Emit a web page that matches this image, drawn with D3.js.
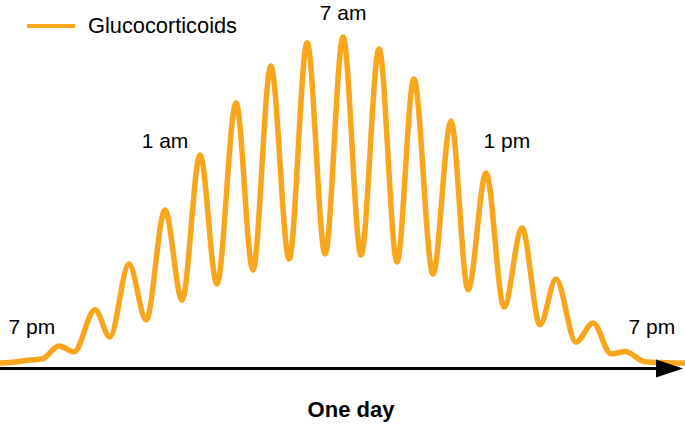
<!DOCTYPE html>
<html>
<head>
<meta charset="utf-8">
<script src="https://cdn.jsdelivr.net/npm/d3@7"></script>
<style>
  body { margin: 0; background: #fff; }
  text { font-family: "Liberation Sans", Arial, sans-serif; fill: #000; }
</style>
</head>
<body>
<script>
// hours since 7 pm, glucocorticoid level (arbitrary units, 0-100)
var hours = [0, 0.53, 1.05, 1.47, 2.07, 2.59, 3.33, 3.85, 4.52, 5.12, 5.78, 6.38,
    7.01, 7.60, 8.27, 8.86, 9.49, 10.13, 10.76, 11.39, 12.02, 12.65, 13.28, 13.91,
    14.50, 15.17, 15.80, 16.40, 17.03, 17.66, 18.29, 18.92, 19.48, 20.18, 20.78,
    21.41, 21.90, 22.60, 23.30, 24];
var level = [0, 0.3, 0.9, 1.2, 5.2, 3.4, 16.3, 8.0, 30.4, 13.2, 46.9, 19.3,
    63.8, 24.2, 79.8, 28.5, 91.1, 31.9, 98.2, 33.4, 100, 33.1, 96.3, 31.0,
    87.1, 27.3, 74.2, 22.4, 58.3, 17.2, 41.4, 11.7, 25.8, 6.4, 12.3,
    2.8, 3.5, 0.4, 0.1, 0];

var timeLabels = ["7 pm", "1 am", "7 am", "1 pm", "7 pm"];
var labelHours = [1.12, 5.78, 12.02, 17.76, 22.84];
var labelLevel = [8.9, 66, 105.2, 66, 8.9];

var seriesName = "Glucocorticoids";
var axisTitle = "One day";

var width = 685, height = 425;

var xScale = d3.scaleLinear()
    .domain([0, 24])
    .range([0, 685]);

var yScale = d3.scaleLinear()
    .domain([0, 100])
    .range([363, 37]);

var svg = d3.select("body")
    .append("svg")
    .attr("width", width)
    .attr("height", height);

var pts = hours.map(function(h, i) { return [h, level[i]]; });

var line = d3.line()
    .x(function(d) { return xScale(d[0]); })
    .y(function(d) { return yScale(d[1]); })
    .curve(d3.curveMonotoneX);

svg.append("path")
    .datum(pts)
    .attr("d", line)
    .attr("fill", "none")
    .attr("stroke", "#f9a61c")
    .attr("stroke-width", 5.5)
    .attr("stroke-linejoin", "round")
    .attr("stroke-linecap", "round");

// time labels
svg.selectAll(".tlabel")
    .data(timeLabels)
    .enter()
    .append("text")
    .attr("class", "tlabel")
    .attr("x", function(d, i) { return xScale(labelHours[i]); })
    .attr("y", function(d, i) { return yScale(labelLevel[i]); })
    .attr("text-anchor", "middle")
    .style("font-size", "21px")
    .text(function(d) { return d; });

// time arrow
svg.append("line")
    .attr("x1", 0)
    .attr("x2", 662)
    .attr("y1", 368.5)
    .attr("y2", 368.5)
    .attr("stroke", "#000")
    .attr("stroke-width", 3);

svg.append("path")
    .attr("d", "M656,359.5 L683,368.5 L656,377.5 Z")
    .attr("fill", "#000");

svg.append("text")
    .attr("x", 351)
    .attr("y", 417)
    .attr("text-anchor", "middle")
    .style("font-size", "22px")
    .style("font-weight", "bold")
    .text(axisTitle);

// legend
svg.append("line")
    .attr("x1", 27)
    .attr("x2", 75)
    .attr("y1", 26)
    .attr("y2", 26)
    .attr("stroke", "#f9a61c")
    .attr("stroke-width", 4);

svg.append("text")
    .attr("x", 88)
    .attr("y", 33)
    .style("font-size", "21.8px")
    .text(seriesName);
</script>
</body>
</html>
